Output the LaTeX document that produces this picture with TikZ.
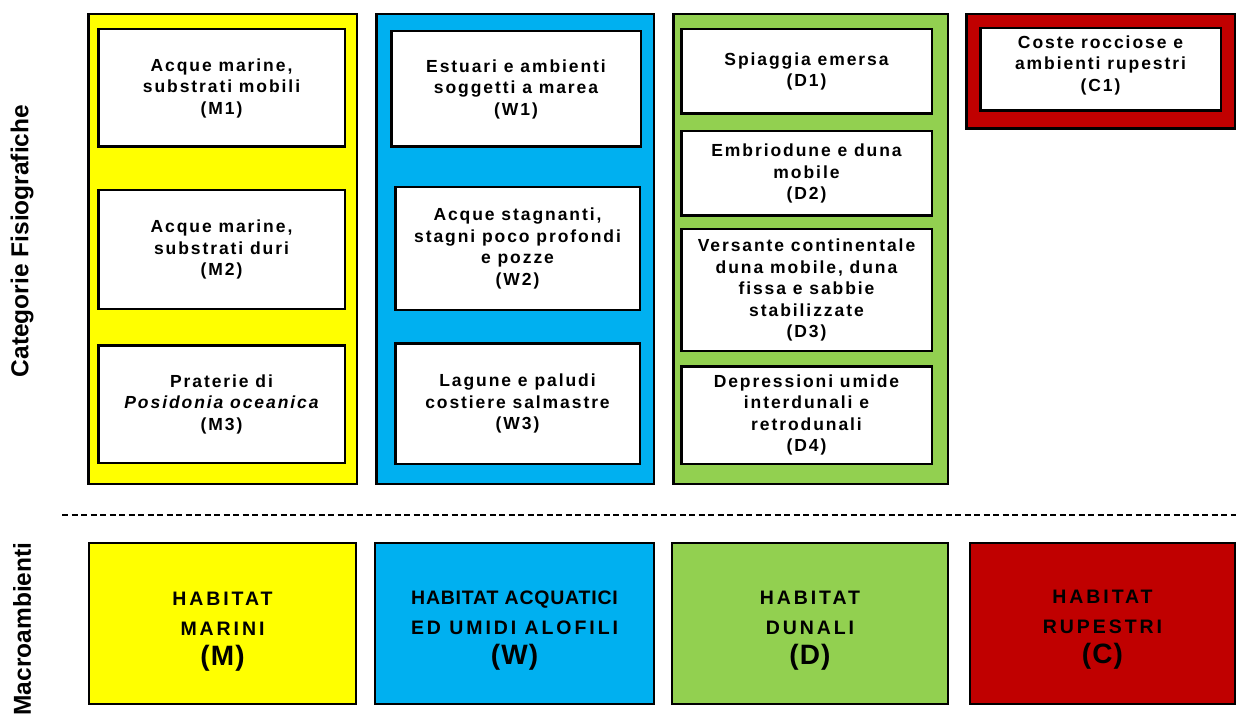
\documentclass[tikz,border=0pt]{standalone}
\usepackage{fontspec}
\setmainfont{Liberation Sans}[LetterSpace=11]
\newfontfamily\plainsans{Liberation Sans}
\newfontfamily\macrofont{Liberation Sans}[LetterSpace=15]
\newfontfamily\macrofontw{Liberation Sans}[LetterSpace=4]
\newfontfamily\parenfont{Liberation Sans}[LetterSpace=4]
\newcommand\bigletter[1]{{\parenfont\fontsize{28}{30}\selectfont (#1)}}
\definecolor{myyellow}{HTML}{FFFF00}
\definecolor{myblue}{HTML}{00B0F0}
\definecolor{mygreen}{HTML}{92D050}
\definecolor{myred}{HTML}{C00000}
\begin{document}
\begin{tikzpicture}[x=1pt,y=-1pt,
 outerbox/.style={draw=black, line width=2.5pt, inner sep=0pt},
 catbox/.style={draw=black, fill=white, line width=2.5pt, inner sep=0pt, align=center, font=\bfseries\fontsize{17.5}{21.5}\selectfont},
 cattext/.style={inner sep=0pt, align=center, font=\bfseries\fontsize{17.5}{21.5}\selectfont},
 macrobox/.style={draw=black, line width=2pt, inner sep=0pt, align=center, font=\macrofont\bfseries\fontsize{19.5}{30}\selectfont},
 sidelabel/.style={rotate=90, inner sep=0pt, font=\plainsans\bfseries\fontsize{24.5}{28}\selectfont},
 sepline/.style={draw=black, line width=2pt, dash pattern=on 6pt off 3.5pt},
]
\useasboundingbox (0,0) rectangle (1236,727);

% outer coloured columns
\node[outerbox, fill=myyellow, minimum width=268.5pt, minimum height=469.5pt] (Mcol) at (222.5,249) {};
\node[outerbox, fill=myblue, minimum width=277.5pt, minimum height=469.5pt] (Wcol) at (515,249) {};
\node[outerbox, fill=mygreen, minimum width=274.5pt, minimum height=469.5pt] (Dcol) at (810.5,249) {};
\node[outerbox, fill=myred, minimum width=268.5pt, minimum height=114.5pt] (Ccol) at (1100.5,71.5) {};

% physiographic categories
\node[catbox, minimum width=246.5pt, minimum height=117.5pt] (M1) at (221.5,88) {Acque marine,\\substrati mobili\\(M1)};
\node[catbox, minimum width=246.5pt, minimum height=118.5pt] (M2) at (221.5,249.5) {Acque marine,\\substrati duri\\(M2)};
\node[catbox, minimum width=246.5pt, minimum height=117.5pt] (M3) at (221.5,404) {Praterie di\\\itshape Posidonia oceanica\\(M3)};

\node[catbox, minimum width=249.5pt, minimum height=115.5pt] (W1) at (516,89) {Estuari e ambienti\\soggetti a marea\\(W1)};
\node[catbox, minimum width=244.5pt, minimum height=122.5pt] (W2) at (517.5,248.5) {Acque stagnanti,\\stagni poco profondi\\e pozze\\(W2)};
\node[catbox, minimum width=244.5pt, minimum height=120.5pt] (W3) at (517.5,403.5) {Lagune e paludi\\costiere salmastre\\(W3)};

\node[catbox, minimum width=250.5pt, minimum height=84.5pt] (D1) at (806.5,71.5) {Spiaggia emersa\\(D1)};
\node[catbox, minimum width=250.5pt, minimum height=84.5pt] (D2) at (806.5,173.5) {Embriodune e duna\\mobile\\(D2)};
\node[catbox, minimum width=250.5pt, minimum height=121.5pt] (D3) at (806.5,290) {Versante continentale\\duna mobile, duna\\fissa e sabbie\\stabilizzate\\(D3)};
\node[catbox, minimum width=250.5pt, minimum height=97.5pt] (D4) at (806.5,415) {Depressioni umide\\interdunali e\\retrodunali\\(D4)};

\node[catbox, minimum width=240.5pt, minimum height=82.5pt] (C1) at (1100.5,69.5) {};
\node[cattext] (C1text) at (1100.5,65) {Coste rocciose e\\ambienti rupestri\\(C1)};

% separator
\coordinate (sepL) at (62,515);
\coordinate (sepR) at (1236,515);
\draw[sepline] (sepL) -- (sepR);

% macro-environments
\node[macrobox, fill=myyellow, minimum width=267pt, minimum height=161pt] (Mmacro) at (222.5,623.5) {\rule{0pt}{30pt}HABITAT\\MARINI\\\bigletter{M}};
\node[macrobox, fill=myblue, minimum width=279pt, minimum height=161pt] (Wmacro) at (514.5,623.5) {\macrofontw\rule{0pt}{28pt}HABITAT ACQUATICI\\ED UMIDI ALOFILI\\\bigletter{W}};
\node[macrobox, fill=mygreen, minimum width=276pt, minimum height=161pt] (Dmacro) at (810,623.5) {\rule{0pt}{28pt}HABITAT\\DUNALI\\\bigletter{D}};
\node[macrobox, fill=myred, minimum width=265pt, minimum height=161pt] (Cmacro) at (1102.5,623.5) {\rule{0pt}{26pt}HABITAT\\RUPESTRI\\\bigletter{C}};

% side labels
\node[sidelabel] (catlabel) at (22,241) {Categorie Fisiografiche};
\node[sidelabel] (macrolabel) at (22,629) {Macroambienti};
\end{tikzpicture}
\end{document}
